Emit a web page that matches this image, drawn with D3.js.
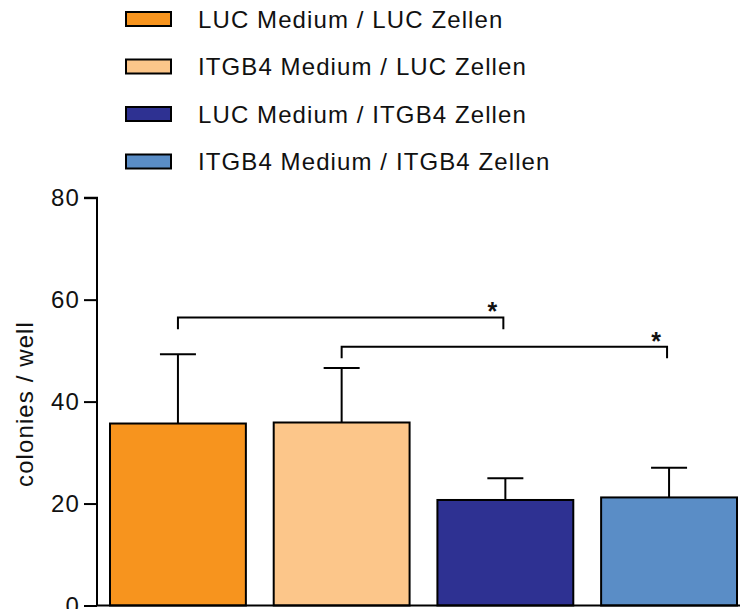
<!DOCTYPE html>
<html>
<head>
<meta charset="utf-8">
<script src="https://cdn.jsdelivr.net/npm/d3@7"></script>
<style>
  html, body { margin: 0; padding: 0; background: #fff; }
  svg text { font-family: "Liberation Sans", Arial, Helvetica, sans-serif; fill: #111; }
</style>
</head>
<body>
<svg id="chart" width="740" height="609"></svg>
<script>
// Groups: conditioned medium / cell line
const groups = [
  "LUC Medium / LUC Zellen",
  "ITGB4 Medium / LUC Zellen",
  "LUC Medium / ITGB4 Zellen",
  "ITGB4 Medium / ITGB4 Zellen"
];
// Mean colonies per well and error (upper bar only)
const means = [35.7, 35.9, 20.7, 21.2];
const errors = [13.6, 10.7, 4.25, 5.8];
const colors = ["#F7941E", "#FCC68A", "#2E3192", "#5A8DC6"];
const yTicks = [0, 20, 40, 60, 80];
// Significance brackets: [from group, to group, bracket height, drop height, label]
const brackets = [
  [0, 2, 56.5, 54.2, "*"],
  [1, 3, 50.75, 48.5, "*"]
];

const svg = d3.select("#chart");
const fontSize = 24, spacing = "1.1px";

const x = d3.scaleBand().domain(d3.range(groups.length)).range([110, 737])
  .paddingInner(0.17).paddingOuter(0);
const y = d3.scaleLinear().domain([0, 80]).range([605.5, 197.7]);
const axisX = 97;

// Bars
svg.append("g").selectAll("rect").data(means).join("rect")
  .attr("x", (d, i) => x(i))
  .attr("y", d => y(d))
  .attr("width", x.bandwidth())
  .attr("height", d => y(0) - y(d))
  .attr("fill", (d, i) => colors[i])
  .attr("stroke", "#000")
  .attr("stroke-width", 2);

// Error bars (upper whisker with cap)
const eb = svg.append("g").attr("stroke", "#000").attr("stroke-width", 2);
means.forEach((m, i) => {
  const cx = x(i) + x.bandwidth() / 2;
  eb.append("line").attr("x1", cx).attr("x2", cx)
    .attr("y1", y(m)).attr("y2", y(m + errors[i]));
  eb.append("line").attr("x1", cx - 18).attr("x2", cx + 18)
    .attr("y1", y(m + errors[i])).attr("y2", y(m + errors[i]));
});

// Significance brackets
const bg = svg.append("g");
brackets.forEach(([a, b, top, drop, label]) => {
  const xa = x(a) + x.bandwidth() / 2;
  const xb = x(b) + x.bandwidth() / 2 - 2;
  bg.append("path")
    .attr("d", `M${xa},${y(drop)}V${y(top)}H${xb}V${y(drop)}`)
    .attr("fill", "none").attr("stroke", "#000").attr("stroke-width", 2);
  bg.append("text")
    .attr("x", xb - 11).attr("y", y(top) + 3)
    .attr("text-anchor", "middle")
    .style("font-size", "25px")
    .style("font-weight", "bold")
    .text(label);
});

// Y axis
const yAxis = svg.append("g")
  .attr("transform", `translate(${axisX},0)`)
  .call(d3.axisLeft(y).tickValues(yTicks).tickSize(13).tickPadding(4).tickFormat(d3.format("d")));
yAxis.select(".domain").attr("stroke-width", 2).attr("d", `M-13,${y(80)}H0V${y(0)}`);
yAxis.selectAll(".tick line").attr("stroke-width", 2);
yAxis.selectAll(".tick text")
  .style("font-size", fontSize + "px")
  .style("letter-spacing", spacing)
  .style("font-family", "'Liberation Sans', Arial, sans-serif")
  .attr("fill", "#111");

// Baseline along the bottom
svg.append("line")
  .attr("x1", axisX).attr("x2", 740)
  .attr("y1", y(0)).attr("y2", y(0))
  .attr("stroke", "#000").attr("stroke-width", 2);

// Y axis title
svg.append("text")
  .attr("transform", `translate(33,404) rotate(-90)`)
  .attr("text-anchor", "middle")
  .style("font-size", fontSize + "px")
  .style("letter-spacing", spacing)
  .text("colonies / well");

// Legend
const legend = svg.append("g");
const rowY = d3.scalePoint().domain(d3.range(groups.length)).range([19, 161.5]);
groups.forEach((g, i) => {
  const cy = rowY(i);
  legend.append("rect")
    .attr("x", 126).attr("y", cy - 7)
    .attr("width", 45).attr("height", 14)
    .attr("fill", colors[i]).attr("stroke", "#000").attr("stroke-width", 2);
  legend.append("text")
    .attr("x", 198).attr("y", cy + 8.5)
    .style("font-size", fontSize + "px")
    .style("letter-spacing", spacing)
    .text(g);
});
</script>
</body>
</html>
